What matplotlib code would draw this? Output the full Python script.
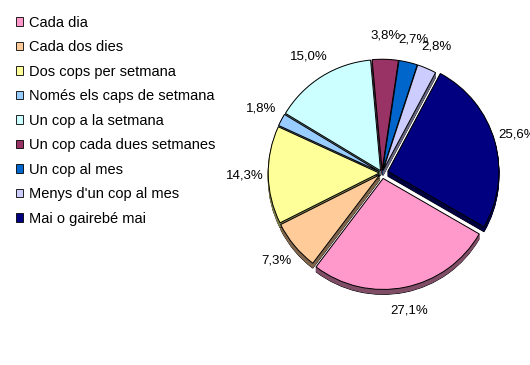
import matplotlib

matplotlib.use("Agg")
import matplotlib.pyplot as plt
import numpy as np
from matplotlib.colors import to_rgb
from matplotlib.patches import Wedge

plt.rcParams["font.family"] = ["Liberation Sans", "DejaVu Sans"]

categories = [
    "Cada dia",
    "Cada dos dies",
    "Dos cops per setmana",
    "Només els caps de setmana",
    "Un cop a la setmana",
    "Un cop cada dues setmanes",
    "Un cop al mes",
    "Menys d'un cop al mes",
    "Mai o gairebé mai",
]
values = [27.1, 7.3, 14.3, 1.8, 15.0, 3.8, 2.7, 2.8, 25.6]
colors = ["#FF99CC", "#FFCC99", "#FFFF99", "#99CCFF", "#CCFFFF",
          "#993366", "#0066CC", "#CCCCFF", "#000080"]
explode = [0.05, 0.025, 0.025, 0.025, 0.025, 0.025, 0.025, 0.025, 0.055]

fig = plt.figure(figsize=(5.3, 3.65), dpi=100)
lim = 150 / 111
ax = fig.add_axes([232 / 530, 1 - 323 / 365, 300 / 530, 300 / 365])

labels = [f"{v:.1f}%".replace(".", ",") for v in values]
wedges, texts = ax.pie(
    values,
    colors=colors,
    explode=explode,
    startangle=-30,
    counterclock=False,
    labels=labels,
    labeldistance=1.21,
    radius=1.0,
    wedgeprops={"edgecolor": "black", "linewidth": 0.7},
    textprops={"fontsize": 9.5},
)
for t in texts:
    t.set_horizontalalignment("center")
    t.set_verticalalignment("center")

# darker extruded side to mimic the 3-D look
depth = 0.045
for w in wedges:
    dark = tuple(c * 0.5 for c in to_rgb(w.get_facecolor()))
    cx, cy = w.center
    for k in np.linspace(depth, 0.005, 8):
        ax.add_patch(Wedge((cx, cy - k), w.r, w.theta1, w.theta2,
                           facecolor=dark, edgecolor="black" if k == depth else dark,
                           linewidth=0.6, zorder=w.get_zorder() - 0.5))
    w.set_zorder(w.get_zorder() + 1)

ax.set_xlim(-lim, lim)
ax.set_ylim(-lim, lim)
ax.set_aspect("equal")
ax.axis("off")

handles = [plt.Rectangle((0, 0), 1, 1, facecolor=c, edgecolor="black", linewidth=0.6)
           for c in colors]
leg = fig.legend(
    handles, categories,
    loc="upper left",
    bbox_to_anchor=(0.019, 0.973),
    frameon=False,
    fontsize=10.5,
    handlelength=0.5,
    handleheight=0.5,
    handletextpad=0.4,
    labelspacing=0.72,
    borderaxespad=0.0,
)

fig.savefig("out.png", dpi=100)
